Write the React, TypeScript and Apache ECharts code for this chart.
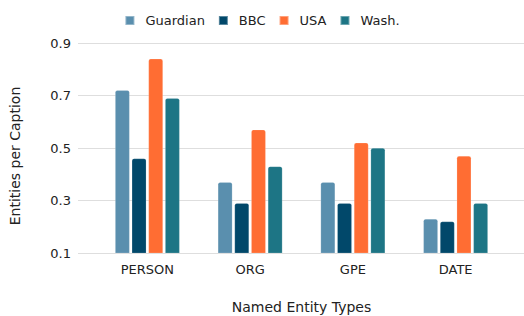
import React, { useEffect, useRef } from "react";
import * as echarts from "echarts";

const categories = ["PERSON", "ORG", "GPE", "DATE"];
const guardian = [0.72, 0.37, 0.37, 0.23];
const bbc = [0.46, 0.29, 0.29, 0.22];
const usa = [0.84, 0.57, 0.52, 0.47];
const wash = [0.69, 0.43, 0.5, 0.29];
const seriesNames = ["Guardian", "BBC", "USA", "Wash."];
const colors = ["#5a8fae", "#01486a", "#ff6d33", "#1d7585"];
const yMin = 0.1;
const yMax = 0.9;
const yStep = 0.2;

const FONT = "DejaVu Sans";

export default function App() {
  const ref = useRef<HTMLDivElement>(null);
  useEffect(() => {
    if (!ref.current) return;
    const chart = echarts.init(ref.current, null, { renderer: "svg" });
    const data = [guardian, bbc, usa, wash];
    chart.setOption({
      animation: false,
      textStyle: { fontFamily: FONT },
      legend: {
        top: 9,
        left: "center",
        icon: "rect",
        itemWidth: 9,
        itemHeight: 9,
        itemGap: 13,
        textStyle: { fontFamily: FONT, fontSize: 13, color: "#222", padding: [0, 0, 0, 6] },
        data: seriesNames,
      },
      grid: [
        { left: 78, right: 0, top: 43, bottom: 63, outerBoundsMode: "none", containLabel: false },
        { left: 96, right: 17, top: 43, bottom: 63, outerBoundsMode: "none", containLabel: false },
      ],
      xAxis: [
        { gridIndex: 0, type: "category", data: categories, show: false },
        {
          gridIndex: 1,
          type: "category",
          data: categories,
          axisLine: { show: false },
          axisTick: { show: false },
          axisLabel: { fontFamily: FONT, fontSize: 13, color: "#222", margin: 10 },
          name: "Named Entity Types",
          nameLocation: "middle",
          nameGap: 47,
          nameTextStyle: { fontFamily: FONT, fontSize: 14, color: "#222" },
        },
      ],
      yAxis: [
        {
          gridIndex: 0,
          type: "value",
          min: yMin,
          max: yMax,
          interval: yStep,
          axisLine: { show: false },
          axisTick: { show: false },
          axisLabel: {
            fontFamily: FONT,
            fontSize: 13,
            color: "#222",
            margin: 7,
            formatter: (v: number) => v.toFixed(1),
          },
          splitLine: { lineStyle: { color: "#dedede", width: 1 } },
          name: "Entities per Caption",
          nameLocation: "middle",
          nameGap: 56,
          nameTextStyle: { fontFamily: FONT, fontSize: 14, color: "#222", padding: [0, 16, 0, 0] },
        },
        {
          gridIndex: 1,
          type: "value",
          min: yMin,
          max: yMax,
          interval: yStep,
          show: false,
          splitLine: { show: false },
        },
      ],
      series: seriesNames.map((name, i) => ({
        name,
        type: "bar",
        xAxisIndex: 1,
        yAxisIndex: 1,
        data: data[i],
        barWidth: 14.5,
        barGap: "15%",
        itemStyle: {
          color: colors[i],
          borderRadius: [2, 2, 0, 0],
          borderColor: "rgba(255,255,255,0.35)",
          borderWidth: 0.5,
        },
      })),
    });
    return () => chart.dispose();
  }, []);
  return <div ref={ref} style={{ width: 524, height: 316, position: "absolute", left: 0, top: 0 }} />;
}
